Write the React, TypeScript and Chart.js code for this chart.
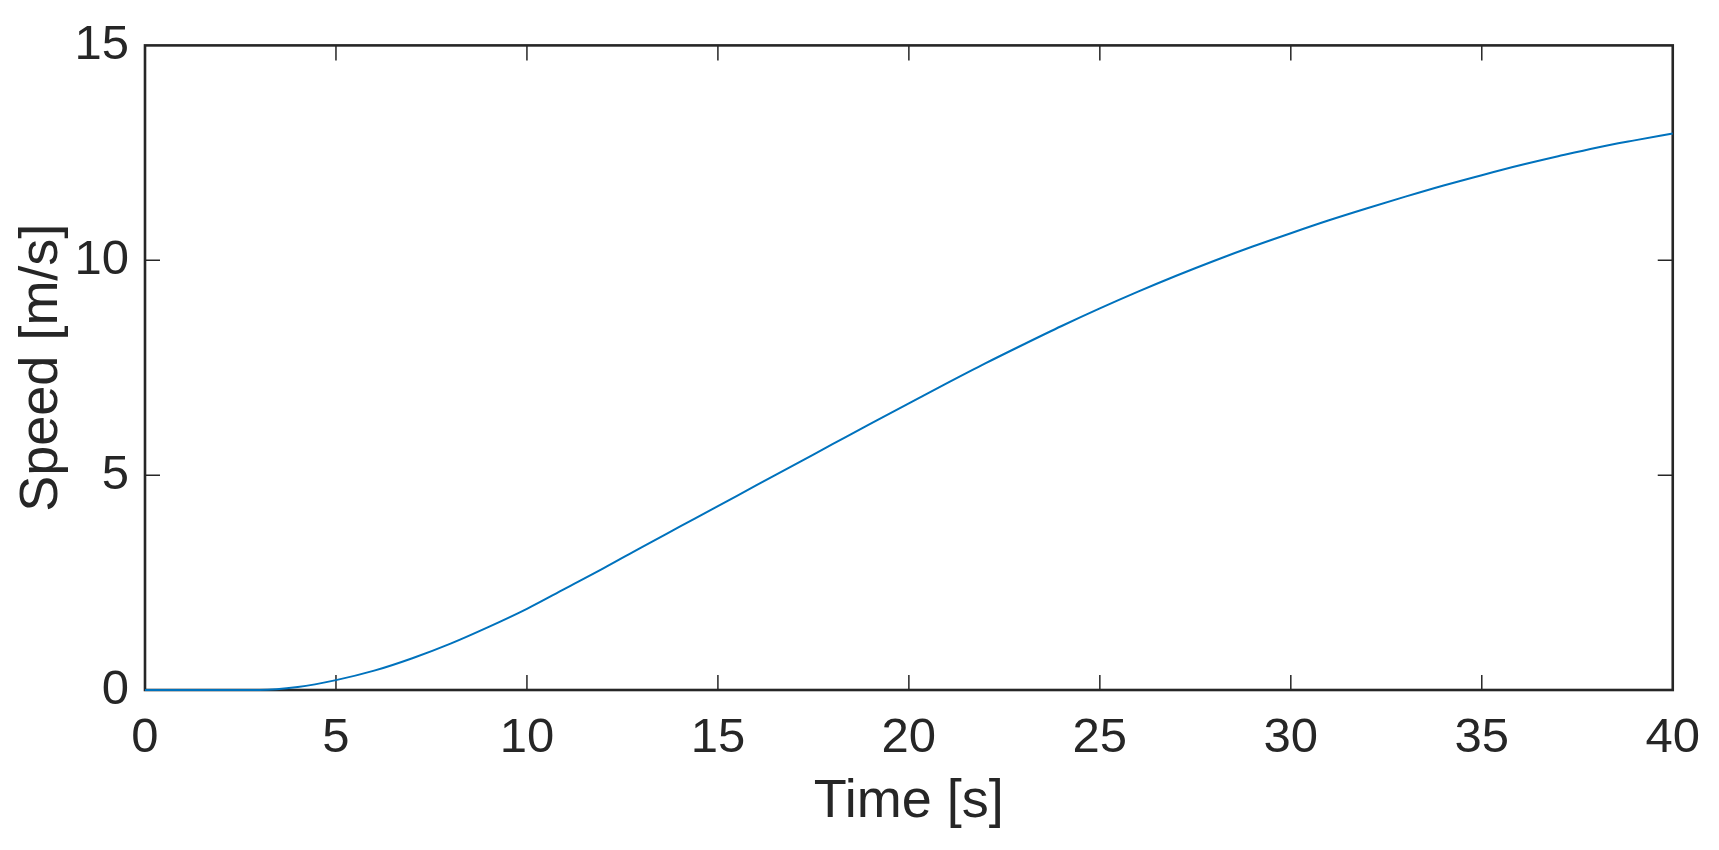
import React, { useEffect, useRef } from "react";
import { Chart, registerables } from "chart.js";

Chart.register(...registerables);

const timeS: number[] = [0, 1, 2, 3, 4, 5, 6, 7, 8, 9, 10, 11, 12, 13, 14, 15, 16, 17, 18, 19, 20, 21, 22, 23, 24, 25, 26, 27, 28, 29, 30, 31, 32, 33, 34, 35, 36, 37, 38, 39, 40];
const speedMs: number[] = [0, 0, 0, 0, 0.07, 0.23, 0.45, 0.74, 1.08, 1.47, 1.89, 2.36, 2.83, 3.32, 3.8, 4.28, 4.76, 5.24, 5.72, 6.2, 6.67, 7.14, 7.6, 8.04, 8.47, 8.88, 9.27, 9.64, 9.99, 10.32, 10.63, 10.93, 11.21, 11.48, 11.74, 11.98, 12.21, 12.42, 12.62, 12.79, 12.95];
const xTitle = "Time [s]";
const yTitle = "Speed [m/s]";

const AXIS_COLOR = "#262626";
const LINE_COLOR = "#0072BD";
const FONT = "'Liberation Sans', Arial, Helvetica, sans-serif";

const boxPlugin = {
  id: "matlabBox",
  beforeDatasetsDraw(chart: any) {
    const { ctx, chartArea } = chart;
    const xs = chart.scales.x;
    const ys = chart.scales.y;
    const { left, right, top, bottom } = chartArea;
    const tl = 15;
    ctx.save();
    ctx.strokeStyle = AXIS_COLOR;
    ctx.lineWidth = 1.5;
    ctx.beginPath();
    xs.ticks.forEach((t: any) => {
      const px = xs.getPixelForValue(t.value);
      if (px <= left + 1 || px >= right - 1) return;
      ctx.moveTo(px, bottom);
      ctx.lineTo(px, bottom - tl);
      ctx.moveTo(px, top);
      ctx.lineTo(px, top + tl);
    });
    ys.ticks.forEach((t: any) => {
      const py = ys.getPixelForValue(t.value);
      if (py <= top + 1 || py >= bottom - 1) return;
      ctx.moveTo(left, py);
      ctx.lineTo(left + tl, py);
      ctx.moveTo(right, py);
      ctx.lineTo(right - tl, py);
    });
    ctx.stroke();
    ctx.lineWidth = 2.6;
    ctx.strokeRect(left, top, right - left, bottom - top);
    ctx.restore();
  },
};

export default function App() {
  const ref = useRef<HTMLCanvasElement | null>(null);
  useEffect(() => {
    if (!ref.current) return;
    const chart = new Chart(ref.current, {
      type: "line",
      data: {
        datasets: [
          {
            data: timeS.map((t, i) => ({ x: t, y: speedMs[i] })),
            borderColor: LINE_COLOR,
            borderWidth: 2,
            pointRadius: 0,
            cubicInterpolationMode: "monotone",
            fill: false,
            clip: 6,
          },
        ],
      },
      options: {
        responsive: false,
        animation: false,
        layout: { padding: { top: 42, right: 44, left: 0, bottom: 0 } },
        plugins: { legend: { display: false }, tooltip: { enabled: false } },
        scales: {
          x: {
            type: "linear",
            min: 0,
            max: 40,
            grid: { display: false, drawTicks: false },
            border: { display: false },
            ticks: {
              stepSize: 5,
              padding: 19,
              color: AXIS_COLOR,
              font: { family: FONT, size: 49 },
              maxRotation: 0,
            },
            title: {
              display: true,
              text: xTitle,
              color: AXIS_COLOR,
              font: { family: FONT, size: 54 },
              padding: { top: 0, bottom: 15 },
            },
            afterFit: (s: any) => {
              s.height = 160;
            },
          },
          y: {
            type: "linear",
            min: 0,
            max: 15,
            grid: { display: false, drawTicks: false },
            border: { display: false },
            ticks: {
              stepSize: 5,
              padding: 16,
              color: AXIS_COLOR,
              font: { family: FONT, size: 49 },
            },
            title: {
              display: true,
              text: yTitle,
              color: AXIS_COLOR,
              font: { family: FONT, size: 54 },
              padding: { top: 10, bottom: 0 },
            },
            afterFit: (s: any) => {
              s.width = 145;
            },
          },
        },
      },
      plugins: [boxPlugin],
    });
    return () => chart.destroy();
  }, []);
  return (
    <div style={{ position: "absolute", left: 0, top: 0, width: 1719, height: 850, background: "#fff" }}>
      <canvas ref={ref} width={1719} height={850} style={{ display: "block" }} />
    </div>
  );
}
